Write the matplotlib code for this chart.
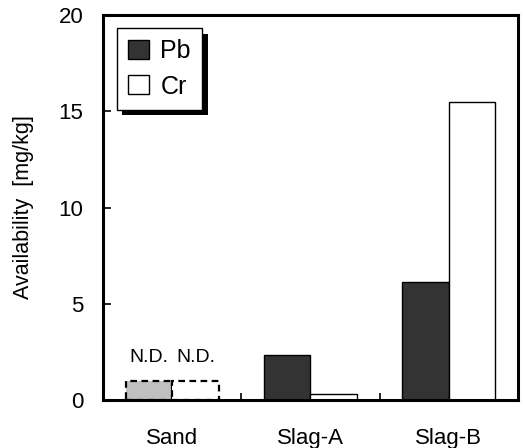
import numpy as np
import matplotlib
matplotlib.use("Agg")
import matplotlib.pyplot as plt
from matplotlib import patheffects
from matplotlib.patches import Patch

plt.rcParams["font.family"] = ["Liberation Sans", "DejaVu Sans"]

# date
categorii = ["Sand", "Slag-A", "Slag-B"]
pb = [1.0, 2.35, 6.15]
cr = [1.0, 0.3, 15.5]
nedetectat = [True, False, False]  # Sand = N.D.
y_ticks = [0, 5, 10, 15, 20]

fig = plt.figure(figsize=(5.24, 4.48), dpi=100)
ax = fig.add_axes([0.1966, 0.1071, 0.7919, 0.8594])

x = np.arange(1, len(categorii) + 1)
w = 0.336

bare_pb = ax.bar(x - w / 2, pb, w, color="#333333", edgecolor="black", linewidth=1.0)
bare_cr = ax.bar(x + w / 2, cr, w, color="white", edgecolor="black", linewidth=1.0)

# barele N.D. -> contur punctat, Pb gri
for i, nd in enumerate(nedetectat):
    if not nd:
        continue
    bare_pb[i].set_facecolor("#c0c0c0")
    for b in (bare_pb[i], bare_cr[i]):
        b.set_linestyle((0, (3, 2)))
        b.set_linewidth(1.6)
        ax.text(b.get_x() + b.get_width() / 2, b.get_height() + 0.75, "N.D.",
                ha="center", va="bottom", fontsize=14)

ax.set_xlim(0.5, len(categorii) + 0.5)
ax.set_ylim(0, 20)
ax.set_yticks(y_ticks)
ax.set_xticks(x)
ax.set_xticklabels(categorii, fontsize=16)
ax.set_xticks(np.arange(1.5, len(categorii)), minor=True)
ax.tick_params(axis="x", which="major", length=0, pad=20)
ax.tick_params(axis="x", which="minor", direction="in", length=5, width=1.2)
ax.tick_params(axis="y", direction="in", length=6, width=1.2, labelsize=16, pad=14)
ax.set_ylabel("Availability  [mg/kg]", fontsize=15.5, labelpad=18)

for s in ax.spines.values():
    s.set_linewidth(2.2)

handles = [Patch(facecolor="#333333", edgecolor="black", linewidth=1.0, label="Pb"),
           Patch(facecolor="white", edgecolor="black", linewidth=1.0, label="Cr")]
leg = ax.legend(handles=handles, loc="upper left", bbox_to_anchor=(0.033, 0.966),
                fontsize=18, frameon=True, fancybox=False, edgecolor="black",
                handlelength=0.85, handleheight=0.8, handletextpad=0.45,
                labelspacing=0.45, borderpad=0.45, borderaxespad=0)
leg.get_frame().set_linewidth(1.0)
leg.get_frame().set_alpha(1)
leg.legendPatch.set_path_effects([
    patheffects.SimplePatchShadow(offset=(4, -4), shadow_rgbFace="black", alpha=1),
    patheffects.Normal(),
])

fig.savefig("out.png", dpi=100)
